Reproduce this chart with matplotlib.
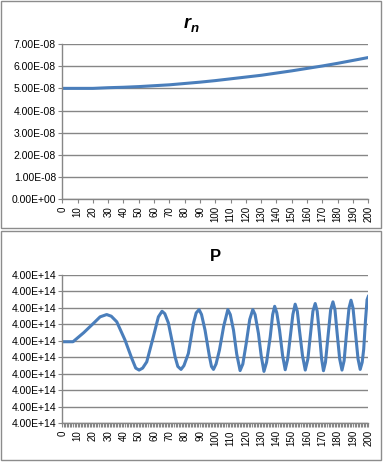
import matplotlib
matplotlib.use("Agg")
import matplotlib.pyplot as plt
from matplotlib.patches import Rectangle
from matplotlib.ticker import FuncFormatter, MultipleLocator
import numpy as np

# ---- data ----
rn_x = [0, 10, 20, 30, 40, 50, 60, 70, 80, 90, 100, 110, 120, 130, 140, 150, 160, 170, 180, 190, 200]
rn_y = [5.00e-8, 5.00e-8, 5.00e-8, 5.03e-8, 5.05e-8, 5.08e-8, 5.12e-8, 5.16e-8, 5.22e-8, 5.28e-8,
        5.35e-8, 5.43e-8, 5.51e-8, 5.59e-8, 5.69e-8, 5.79e-8, 5.90e-8, 6.01e-8, 6.13e-8, 6.26e-8, 6.39e-8]
rn_ticks = [0, 1e-8, 2e-8, 3e-8, 4e-8, 5e-8, 6e-8, 7e-8]

P_BASE = 4.0e14
P_UNIT = 1.0e10
p_x = [0, 7, 14, 20.3, 24.7, 29, 32, 35.6, 41, 45.4, 48, 50.2, 52.5, 55.2, 59.5, 62.8, 65.2, 67, 69.3,
       71.5, 73.7, 75.5, 77.6, 79.5, 82.4, 85.7, 87.5, 89.4, 91, 93.3, 96.2, 97.5, 98.8, 100.5, 102.7,
       105.5, 108.2, 109.8, 111.9, 114, 116.2, 118, 120.2, 122.5, 124.5, 126, 128.2, 130, 131.8, 133.5,
       135.9, 137.5, 138.8, 140.2, 142, 144, 145.7, 147.3, 149, 150.7, 152.2, 153.6, 155, 157, 158.8,
       160.5, 162.2, 163.8, 165.3, 166.6, 168, 169.5, 170.7, 172, 173.8, 175.4, 176.9, 178.2, 179.6,
       181.3, 182.8, 184.2, 185.8, 187.4, 188.7, 190, 191.6, 193.3, 194.7, 196, 197, 198.2, 199.2, 200]
p_level = [4.95, 4.95, 5.5, 6.06, 6.46, 6.6, 6.5, 6.16, 5.05, 3.94, 3.35, 3.23, 3.35, 3.73, 5.25, 6.46,
           6.8, 6.65, 6.1, 5.1, 4.04, 3.45, 3.27, 3.5, 4.24, 6.06, 6.7, 6.9, 6.6, 5.65, 4.04, 3.45, 3.27,
           3.6, 4.44, 5.9, 6.9, 6.6, 5.65, 4.2, 3.2, 3.6, 4.85, 6.3, 6.9, 6.6, 5.45, 4.1, 3.15, 3.7, 5.25,
           6.6, 7.1, 6.7, 5.65, 4.1, 3.25, 3.9, 5.25, 6.6, 7.23, 6.8, 5.65, 4.1, 3.23, 3.9, 5.4, 6.8, 7.27,
           6.8, 5.5, 3.9, 3.19, 3.7, 5.4, 6.9, 7.37, 6.9, 5.5, 3.9, 3.23, 3.8, 5.5, 7.0, 7.47, 7.0, 5.5,
           3.9, 3.27, 3.7, 4.5, 6.3, 7.5, 7.7]
p_tick_levels = [0, 1, 2, 3, 4, 5, 6, 7, 8, 9]
x_labels = list(range(0, 201, 10))

P = [P_BASE + v * P_UNIT for v in p_level]
p_ticks = [P_BASE + v * P_UNIT for v in p_tick_levels]

LINE = "#4A7EBB"
GRID = "#868686"
FONT = "Liberation Sans"
plt.rcParams["font.family"] = [FONT, "DejaVu Sans"]

W, H = 383, 462
fig = plt.figure(figsize=(W / 100, H / 100), dpi=100)
fig.patch.set_facecolor("white")

# panel borders
for (x0, y0, x1, y1) in [(1, 1, 381, 228), (1, 231, 381, 460)]:
    fig.patches.append(Rectangle((x0 / W, 1 - y1 / H), (x1 - x0) / W, (y1 - y0) / H,
                                 transform=fig.transFigure, fill=False, edgecolor="#8c8c8c",
                                 linewidth=1.0))

def style(ax):
    for s in ["top", "right"]:
        ax.spines[s].set_visible(False)
    for s in ["left", "bottom"]:
        ax.spines[s].set_color(GRID)
        ax.spines[s].set_linewidth(1.0)
    ax.grid(axis="y", color=GRID, linewidth=1.0)
    ax.set_axisbelow(True)
    ax.tick_params(axis="y", which="major", length=3, color=GRID, labelsize=7.5, pad=1.5)
    ax.tick_params(axis="x", which="both", length=3, color=GRID, labelsize=7, pad=2,
                   labelrotation=90)
    ax.set_xlim(0, 200)
    ax.set_xticks(x_labels)
    ax.set_xticklabels([str(v) for v in x_labels])

# top chart
ax1 = fig.add_axes([62.3 / W, 1 - 199.3 / H, 306 / W, 155.3 / H])
style(ax1)
ax1.plot(rn_x, rn_y, color=LINE, linewidth=2.2, solid_capstyle="round")
ax1.set_ylim(0, 7e-8)
ax1.set_yticks(rn_ticks)
ax1.yaxis.set_major_formatter(FuncFormatter(lambda v, p: "%.2E" % v))
# title r_n in bold italic
fig.text(190.5 / W, 1 - 28.5 / H, "r", fontsize=13, fontweight="bold", fontstyle="italic",
         ha="right", va="baseline")
fig.text(190.5 / W, 1 - 31.5 / H, "n", fontsize=9.5, fontweight="bold", fontstyle="italic",
         ha="left", va="baseline")

# bottom chart
ax2 = fig.add_axes([62.3 / W, 1 - 423.3 / H, 306 / W, 148.3 / H])
style(ax2)
ax2.plot(p_x, P, color=LINE, linewidth=2.2, solid_joinstyle="round")
ax2.set_ylim(p_ticks[0], p_ticks[-1])
ax2.set_yticks(p_ticks)
ax2.yaxis.set_major_formatter(FuncFormatter(lambda v, p: "%.2E" % v))
ax2.xaxis.set_minor_locator(MultipleLocator(1))
ax2.tick_params(axis="x", which="minor", length=3, color=GRID, width=0.8)
ax2.set_title("P", fontsize=12, fontweight="bold", pad=10)

fig.savefig("out.png", dpi=100, facecolor="white")
